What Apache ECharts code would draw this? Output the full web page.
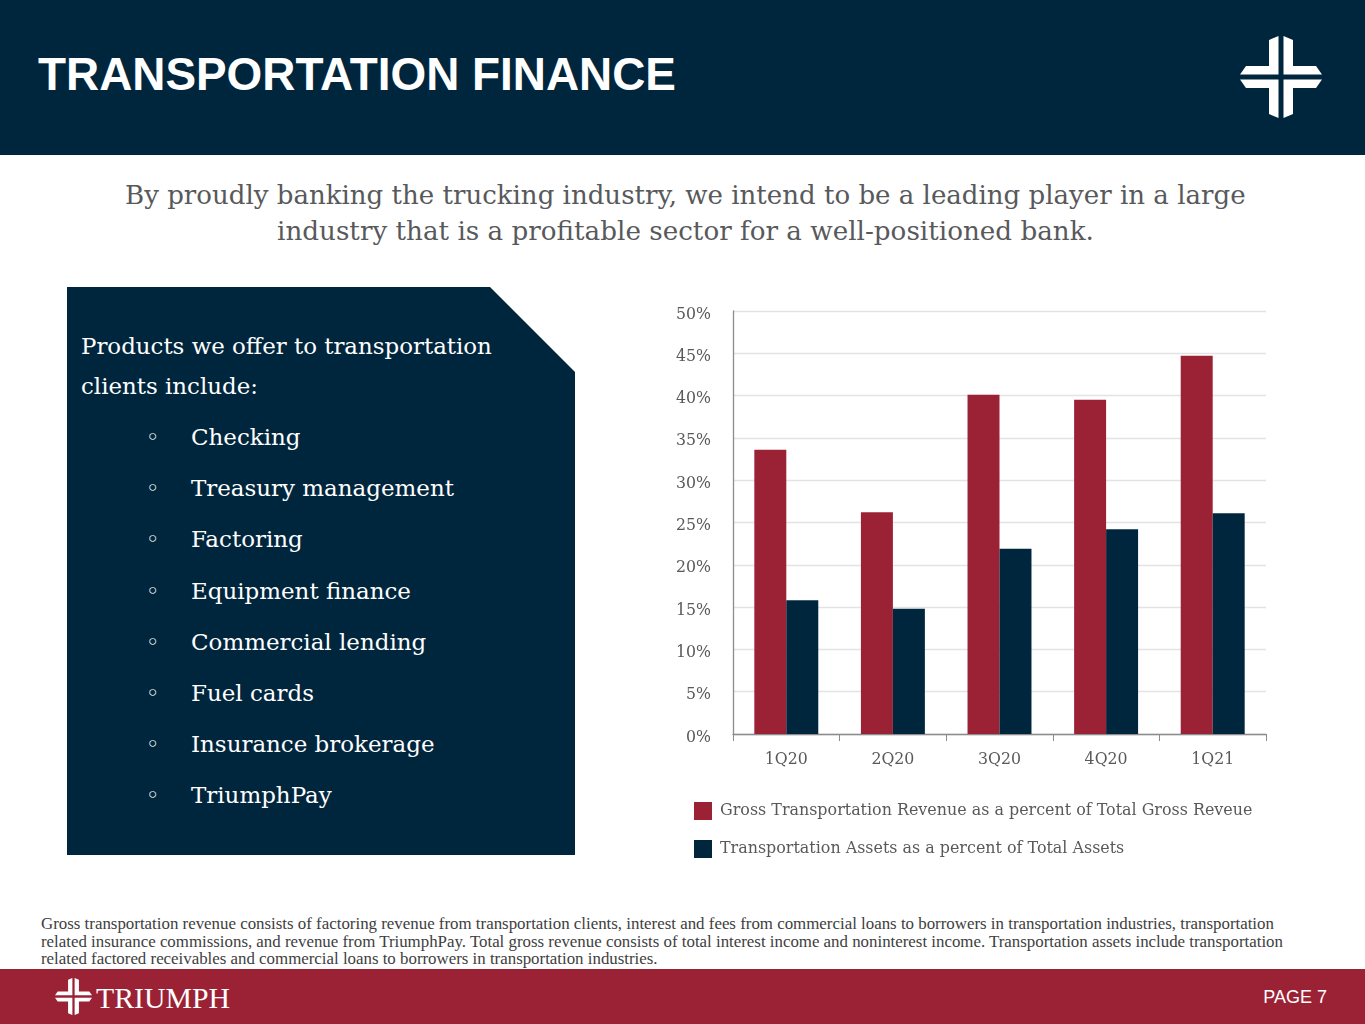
<!DOCTYPE html>
<html>
<head>
<meta charset="utf-8">
<script src="https://cdn.jsdelivr.net/npm/echarts@6/dist/echarts.min.js"></script>
<style>
  html, body { margin:0; padding:0; width:1365px; height:1024px; overflow:hidden; background:#fff; }
  .abs { position:absolute; white-space:nowrap; line-height:1; }
  #header { position:absolute; left:0; top:0; width:1365px; height:155px; background:#00263E; }
  #footer { position:absolute; left:0; top:969px; width:1365px; height:55px; background:#9B2235; }
  #box { position:absolute; left:67px; top:287px; width:508px; height:568px; background:#00263E;
         clip-path: polygon(0 0, 423px 0, 508px 85px, 508px 568px, 0 568px); }
  .serif { font-family:"DejaVu Serif", serif; }
  .ts { font-family:"Liberation Serif", serif; }
  .sans { font-family:"Liberation Sans", Arial, sans-serif; }
  #chart { position:absolute; left:640px; top:280px; width:660px; height:600px; }
</style>
</head>
<body>
<div id="header"></div>
<div class="abs sans fit" data-w="638" style="left:38px; top:52px; color:#fff; font-weight:bold; font-size:48px;">TRANSPORTATION FINANCE</div>
<svg class="abs" style="left:1240px; top:36px;" width="82" height="82" viewBox="0 0 82 82">
  <g fill="#fff">
    <polygon points="29,4 38.5,0 38.5,38.5 0,38.5 6,30 29,30"/>
    <polygon points="53,4 43.5,0 43.5,38.5 82,38.5 76,30 53,30"/>
    <polygon points="29,78 38.5,82 38.5,43.5 0,43.5 6,52 29,52"/>
    <polygon points="53,78 43.5,82 43.5,43.5 82,43.5 76,52 53,52"/>
  </g>
</svg>

<div class="abs serif fit" data-w="1121" style="left:125px; top:182px; color:#58595B; font-size:25px;">By proudly banking the trucking industry, we intend to be a leading player in a large</div>
<div class="abs serif fit" data-w="817" style="left:277px; top:218px; color:#58595B; font-size:25px;">industry that is a profitable sector for a well-positioned bank.</div>

<div id="box"></div>
<div class="abs serif fit" data-w="411" style="left:81px; top:335px; color:#fff; font-size:22px;">Products we offer to transportation</div>
<div class="abs serif" id="l2" style="left:81px; top:375px; color:#fff; font-size:22px;">clients include:</div>

<div id="bullets"></div>

<div id="chart"></div>

<div class="abs ts fit" data-w="1234" style="left:41px; top:916px; color:#404040; font-size:15px;">Gross transportation revenue consists of factoring revenue from transportation clients, interest and fees from commercial loans to borrowers in transportation industries, transportation</div>
<div class="abs ts fit" data-w="1244" style="left:41px; top:934px; color:#404040; font-size:15px;">related insurance commissions, and revenue from TriumphPay. Total gross revenue consists of total interest income and noninterest income. Transportation assets include transportation</div>
<div class="abs ts" id="fn3" style="left:41px; top:951px; color:#404040; font-size:15px;">related factored receivables and commercial loans to borrowers in transportation industries.</div>

<div id="footer"></div>
<svg class="abs" style="left:55px; top:978px;" width="37" height="37" viewBox="0 0 82 82">
  <g fill="#fff">
    <polygon points="29,4 38.5,0 38.5,38.5 0,38.5 6,30 29,30"/>
    <polygon points="53,4 43.5,0 43.5,38.5 82,38.5 76,30 53,30"/>
    <polygon points="29,78 38.5,82 38.5,43.5 0,43.5 6,52 29,52"/>
    <polygon points="53,78 43.5,82 43.5,43.5 82,43.5 76,52 53,52"/>
  </g>
</svg>
<div class="abs ts fit" data-w="134" style="left:96px; top:983px; color:#fff; font-size:30px;">TRIUMPH</div>
<div class="abs sans" style="right:38px; top:988px; color:#fff; font-size:18px;">PAGE 7</div>

<script>
// ---- data ----
const categories = ['1Q20', '2Q20', '3Q20', '4Q20', '1Q21'];
const revenueShare = [33.6, 26.2, 40.1, 39.5, 44.7];
const assetShare = [15.8, 14.8, 21.9, 24.2, 26.1];
const seriesNames = ['Gross Transportation Revenue as a percent of Total Gross Reveue',
                     'Transportation Assets as a percent of Total Assets'];
const yTicks = [0, 5, 10, 15, 20, 25, 30, 35, 40, 45, 50];
const products = ['Checking', 'Treasury management', 'Factoring', 'Equipment finance',
                  'Commercial lending', 'Fuel cards', 'Insurance brokerage', 'TriumphPay'];

// ---- layout helpers ----
const cv = document.createElement('canvas').getContext('2d');
function fitSize(text, family, weight, target) {
  cv.font = (weight || 'normal') + ' 100px ' + family;
  return 100 * target / cv.measureText(text).width;
}
document.querySelectorAll('.fit').forEach(el => {
  const cs = getComputedStyle(el);
  const s = fitSize(el.textContent, cs.fontFamily, cs.fontWeight, +el.dataset.w);
  el.style.fontSize = s.toFixed(2) + 'px';
});
const bSize = fitSize('Treasury management', '"DejaVu Serif"', 'normal', 263);
const headSize = parseFloat(document.querySelector('.fit[data-w="411"]').style.fontSize);
document.getElementById('l2').style.fontSize = headSize + 'px';
document.getElementById('fn3').style.fontSize = document.querySelector('.fit[data-w="1244"]').style.fontSize;
const bc = document.getElementById('bullets');
products.forEach((p, i) => {
  const top = 426 + i * 51.2;
  const d = document.createElement('div');
  d.className = 'abs serif';
  d.style.cssText = `left:146px; top:${top}px; color:#fff; font-size:${bSize}px;`;
  d.textContent = '◦';
  bc.appendChild(d);
  const t = document.createElement('div');
  t.className = 'abs serif';
  t.style.cssText = `left:191px; top:${top}px; color:#fff; font-size:${bSize}px;`;
  t.textContent = p;
  bc.appendChild(t);
});

const F = '"DejaVu Serif"';
const axisSize = fitSize('50%', F, 'normal', 35);
const catSize = fitSize('1Q20', F, 'normal', 43);
const legSize = fitSize(seriesNames[0], F, 'normal', 533);

const chart = echarts.init(document.getElementById('chart'), null, { renderer: 'canvas' });
chart.setOption({
  animation: false,
  grid: { left: 93, right: 34, top: 31, bottom: 146 },
  legend: {
    orient: 'vertical', left: 54, top: 522, padding: 0, itemWidth: 18, itemHeight: 18, itemGap: 20,
    icon: 'rect',
    textStyle: { fontFamily: F, fontSize: legSize, color: '#595959', padding: [6, 0, 0, 3] },
    data: seriesNames
  },
  xAxis: {
    type: 'category', data: categories,
    axisLine: { lineStyle: { color: '#8C8C8C', width: 1.3 } },
    axisTick: { show: true, length: 7, lineStyle: { color: '#8C8C8C' } },
    axisLabel: { fontFamily: F, fontSize: catSize, color: '#595959', margin: 18 }
  },
  yAxis: {
    type: 'value', min: yTicks[0], max: yTicks[yTicks.length - 1], interval: 5,
    axisLine: { show: true, lineStyle: { color: '#8C8C8C', width: 1.3 } },
    axisTick: { show: false },
    splitLine: { lineStyle: { color: '#E3E3E3', width: 1.3 } },
    axisLabel: { fontFamily: F, fontSize: axisSize, color: '#595959', margin: 22,
                 formatter: '{v|{value}%}',
                 rich: { v: { fontFamily: F, fontSize: axisSize, color: '#595959', padding: [7, 0, 0, 0] } } }
  },
  series: [
    { name: seriesNames[0], type: 'bar', data: revenueShare, barGap: '0%', barCategoryGap: '40%',
      itemStyle: { color: '#9B2235' } },
    { name: seriesNames[1], type: 'bar', data: assetShare, barGap: '0%', barCategoryGap: '40%',
      itemStyle: { color: '#00263E' } }
  ]
});
</script>
</body>
</html>
